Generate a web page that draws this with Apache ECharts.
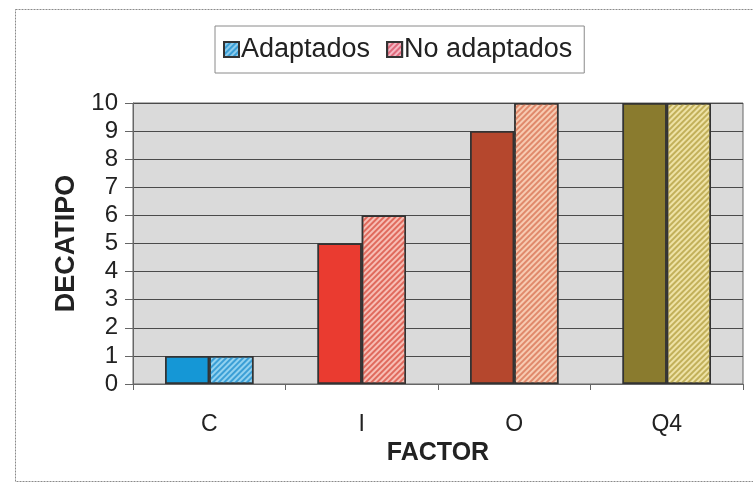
<!DOCTYPE html>
<html>
<head>
<meta charset="utf-8">
<script src="https://cdn.jsdelivr.net/npm/echarts@6/dist/echarts.min.js"></script>
<style>
  html, body { margin: 0; padding: 0; background: #ffffff; }
  #chart { width: 753px; height: 482px; }
</style>
</head>
<body>
<div id="chart"></div>
<script>
// Decatipo scores per factor, for the two groups
const categories = ['C', 'I', 'O', 'Q4'];
const adaptados = [1, 5, 9, 10];
const noAdaptados = [1, 6, 10, 10];
const yTicks = [0, 1, 2, 3, 4, 5, 6, 7, 8, 9, 10];

// Per-factor bar colours: solid fill for one group, striped fill for the other
const solidColors = ['#1597d6', '#ea3b30', '#b5472d', '#8a7b2e'];
const stripeBase = ['#92d2f0', '#f7beb5', '#f7cbb2', '#eee2a6'];
const stripeInk = ['#3b9fd6', '#e06a5d', '#e0896b', '#c2b05a'];

function stripes(color) {
  return {
    symbol: 'rect',
    symbolSize: 1,
    dashArrayX: [1, 0],
    dashArrayY: [2, 2],
    rotation: -Math.PI / 4,
    color: color
  };
}

const chart = echarts.init(document.getElementById('chart'), null, { renderer: 'canvas' });

const font = '"Liberation Sans", Arial, sans-serif';

chart.setOption({
  animation: false,
  textStyle: { fontFamily: font },
  graphic: [{
    type: 'rect',
    left: 13, top: 7,
    shape: { width: 760, height: 472 },
    style: { fill: 'none', stroke: '#8a8a8a', lineWidth: 1, lineDash: [2, 1] },
    z: -1
  }],
  legend: {
    left: 215,
    top: 26,
    icon: 'rect',
    itemWidth: 15,
    itemHeight: 15,
    itemGap: 16,
    padding: [10, 12, 10, 8],
    borderColor: '#8a8a8a',
    borderWidth: 1,
    textStyle: { fontSize: 27, color: '#222', fontFamily: font, padding: [0, 0, 0, -3] },
    data: ['Adaptados', 'No adaptados']
  },
  grid: {
    left: 133, right: 10, top: 103, bottom: 98,
    show: true,
    backgroundColor: '#dadada',
    borderColor: '#666',
    borderWidth: 1
  },
  xAxis: {
    type: 'category',
    data: categories,
    name: 'FACTOR',
    nameLocation: 'middle',
    nameGap: 55,
    nameTextStyle: { fontSize: 25, fontWeight: 'bold', color: '#222', fontFamily: font },
    axisLine: { lineStyle: { color: '#666', width: 1 } },
    axisTick: { show: true, length: 6, lineStyle: { color: '#666' } },
    axisLabel: { fontSize: 23, color: '#222', margin: 29, fontFamily: font }
  },
  yAxis: {
    type: 'value',
    min: yTicks[0],
    max: yTicks[yTicks.length - 1],
    interval: 1,
    name: 'DECATIPO',
    nameLocation: 'middle',
    nameGap: 50,
    nameRotate: 90,
    nameTextStyle: { fontSize: 27, fontWeight: 'bold', color: '#222', fontFamily: font },
    axisLine: { show: true, lineStyle: { color: '#666', width: 1 } },
    axisTick: { show: true, length: 8, lineStyle: { color: '#666' } },
    axisLabel: { fontSize: 24, color: '#222', margin: 15, fontFamily: font },
    splitLine: { show: true, lineStyle: { color: '#4a4a4a', width: 1 } }
  },
  series: [
    {
      name: 'Adaptados',
      type: 'bar',
      barGap: '0%',
      barCategoryGap: '42%',
      itemStyle: { color: '#8ccbec', borderColor: '#333', borderWidth: 1.5, decal: stripes('#3b9fd6') },
      data: adaptados.map((v, i) => ({
        value: v,
        itemStyle: { color: solidColors[i], borderColor: '#333', borderWidth: 1.5, decal: stripes('rgba(0,0,0,0)') }
      }))
    },
    {
      name: 'No adaptados',
      type: 'bar',
      barGap: '0%',
      barCategoryGap: '42%',
      itemStyle: { color: '#f4b8c4', borderColor: '#333', borderWidth: 1.5, decal: stripes('#e06a7d') },
      data: noAdaptados.map((v, i) => ({
        value: v,
        itemStyle: { color: stripeBase[i], borderColor: '#333', borderWidth: 1.5, decal: stripes(stripeInk[i]) }
      }))
    }
  ]
});
</script>
</body>
</html>
